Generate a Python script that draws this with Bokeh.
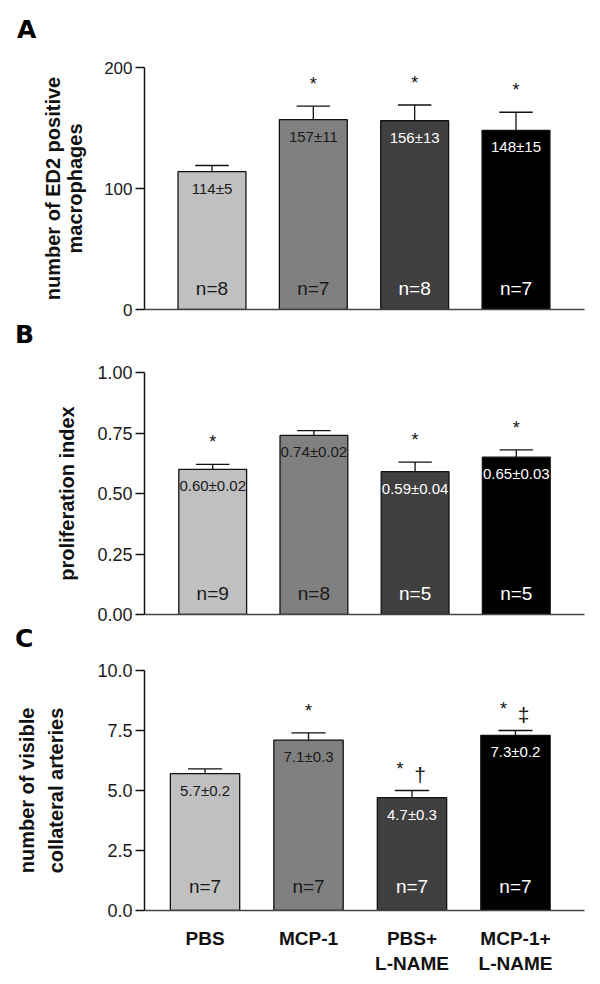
import math
from bokeh.plotting import figure
from bokeh.layouts import column
from bokeh.models import ColumnDataSource, FixedTicker, Range1d, Div
from bokeh.core.properties import value
from bokeh.embed import file_html
from bokeh.resources import INLINE

# ---------------- data ----------------
groups = ["PBS", "MCP-1", "PBS+\nL-NAME", "MCP-1+\nL-NAME"]
bar_colors = ["#c0c0c0", "#808080", "#404040", "#000000"]
text_colors = ["#1a1a1a", "#1a1a1a", "#ffffff", "#ffffff"]
panel_letters = ["A", "B", "C"]

a_mean = [114, 157, 156, 148]
a_sem = [5, 11, 13, 15]
a_n = [8, 7, 8, 7]
a_star = ["", "*", "*", "*"]
a_mark = ["", "", "", ""]
a_ticks = [0, 100, 200]
a_tick_labels = ["0", "100", "200"]
a_ylabel = "number of ED2 positive\nmacrophages"

b_mean = [0.60, 0.74, 0.59, 0.65]
b_sem = [0.02, 0.02, 0.04, 0.03]
b_n = [9, 8, 5, 5]
b_star = ["*", "", "*", "*"]
b_mark = ["", "", "", ""]
b_ticks = [0.0, 0.25, 0.50, 0.75, 1.00]
b_tick_labels = ["0.00", "0.25", "0.50", "0.75", "1.00"]
b_ylabel = "proliferation index"

c_mean = [5.7, 7.1, 4.7, 7.3]
c_sem = [0.2, 0.3, 0.3, 0.2]
c_n = [7, 7, 7, 7]
c_star = ["", "*", "*", "*"]
c_mark = ["", "", "\u2020", "\u2021"]
c_ticks = [0.0, 2.5, 5.0, 7.5, 10.0]
c_tick_labels = ["0.0", "2.5", "5.0", "7.5", "10.0"]
c_ylabel = "number of visible\ncollateral arteries"

FONT = "Liberation Sans"
WIDTH = 592


def header(letter, height, pad_left, pad_top):
    return Div(text=letter, width=WIDTH, height=height, margin=0,
               styles={"font-family": "DejaVu Sans", "font-weight": "bold",
                       "font-size": "25px", "line-height": "25px",
                       "color": "#000000", "padding-left": "%dpx" % pad_left,
                       "padding-top": "%dpx" % pad_top,
                       "box-sizing": "border-box", "margin": "0"})


def panel(mean, sem, n, star, mark, ticks, tick_labels, ymax, fmt,
          ylabel, lab_standoff, lab_lh, tick_fs, n_off,
          height, bt, bb, xr, show_x=False):
    x = list(range(len(mean)))
    p = figure(width=WIDTH, height=height, output_backend="svg",
               toolbar_location=None, x_range=Range1d(*xr),
               y_range=Range1d(0, ymax), min_border_left=144,
               min_border_right=8, min_border_top=bt, min_border_bottom=bb)
    p.outline_line_color = None
    p.grid.visible = False
    p.background_fill_color = "white"
    p.border_fill_color = "white"

    src = ColumnDataSource(dict(
        x=x, mean=mean, top=[m + s for m, s in zip(mean, sem)],
        color=bar_colors, tcolor=text_colors,
        vtext=[fmt(m, s) for m, s in zip(mean, sem)],
        ntext=["n=%d" % k for k in n],
        star=star, mark=mark,
        sdx=[-12 if mk else 0 for mk in mark],
        cl=[xi - 0.165 for xi in x], cr=[xi + 0.165 for xi in x],
        zero=[0] * len(x)))

    p.vbar(x="x", top="mean", width=0.67, source=src, fill_color="color",
           line_color="#111111", line_width=1.3)
    p.segment(x0="x", y0="mean", x1="x", y1="top", source=src,
              line_color="#111111", line_width=1.3)
    p.segment(x0="cl", y0="top", x1="cr", y1="top", source=src,
              line_color="#111111", line_width=1.3)

    p.text(x="x", y="mean", text="vtext", source=src, text_color="tcolor",
           text_font=value(FONT), text_font_size="15px", text_align="center",
           text_baseline="top", y_offset=8)
    p.text(x="x", y="zero", text="ntext", source=src, text_color="tcolor",
           text_font=value(FONT), text_font_size="19px", text_align="center",
           text_baseline="alphabetic", y_offset=n_off)
    p.text(x="x", y="top", text="star", source=src, text_color="#111111",
           text_font=value(FONT), text_font_size="18px", text_align="center",
           text_baseline="alphabetic", y_offset=-22, x_offset="sdx")
    p.text(x="x", y="top", text="mark", source=src, text_color="#111111",
           text_font=value(FONT), text_font_size="21px", text_align="center",
           text_baseline="alphabetic", y_offset=-16, x_offset=8)

    # y axis
    ya = p.yaxis[0]
    ya.ticker = FixedTicker(ticks=ticks)
    ya.major_label_overrides = {t: l for t, l in zip(ticks, tick_labels)}
    ya.major_label_text_font = FONT
    ya.major_label_text_font_size = tick_fs
    ya.major_label_text_color = "#1a1a1a"
    ya.major_tick_out = 9
    ya.major_tick_in = 0
    ya.minor_tick_line_color = None
    ya.major_label_standoff = 3
    ya.axis_line_width = 1.5
    ya.major_tick_line_width = 1.5
    ya.axis_line_color = "#111111"
    ya.major_tick_line_color = "#111111"
    ya.axis_label = ylabel
    ya.axis_label_text_font = FONT
    ya.axis_label_text_font_style = "bold"
    ya.axis_label_text_font_size = "20px"
    ya.axis_label_text_color = "#111111"
    ya.axis_label_standoff = lab_standoff
    ya.axis_label_text_line_height = lab_lh

    # x axis
    xa = p.xaxis[0]
    xa.major_tick_line_color = None
    xa.minor_tick_line_color = None
    xa.axis_line_width = 1.5
    xa.axis_line_color = "#444444"
    if show_x:
        xa.ticker = FixedTicker(ticks=x)
        xa.major_label_overrides = {i: g for i, g in enumerate(groups)}
        xa.major_label_text_font = FONT
        xa.major_label_text_font_style = "bold"
        xa.major_label_text_font_size = "19px"
        xa.major_label_text_color = "#111111"
        xa.major_label_standoff = 11
    else:
        xa.ticker = FixedTicker(ticks=[])
        xa.major_label_standoff = 0
    return p


ha = header(panel_letters[0], 44, 17, 17)
pa = panel(a_mean, a_sem, a_n, a_star, a_mark, a_ticks, a_tick_labels, 200,
           lambda m, s: "%d\u00b1%d" % (m, s), a_ylabel, 15, 1.0, "17px", -21,
           274, 23, 9, (-0.666, 3.676))
hb = header(panel_letters[1], 30, 15, 4)
pb = panel(b_mean, b_sem, b_n, b_star, b_mark, b_ticks, b_tick_labels, 1.0,
           lambda m, s: "%.2f\u00b1%.2f" % (m, s), b_ylabel, 16, 1.0, "18px", -21,
           278, 24, 12, (-0.674, 3.674))
hc = header(panel_letters[2], 26, 15, 0)
pc = panel(c_mean, c_sem, c_n, c_star, c_mark, c_ticks, c_tick_labels, 10.0,
           lambda m, s: "%.1f\u00b1%.1f" % (m, s), c_ylabel, 27, 1.35, "18px", -24,
           324, 18, 59, (-0.585, 3.667), show_x=True)

layout = column(ha, pa, hb, pb, hc, pc, spacing=0)
open("out.html", "w").write(file_html(layout, INLINE))
